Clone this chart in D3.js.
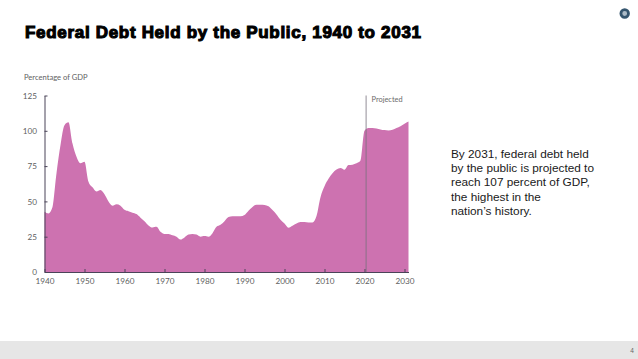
<!DOCTYPE html>
<html>
<head>
<meta charset="utf-8">
<script src="https://d3js.org/d3.v7.min.js"></script>
<style>
  html, body { margin: 0; padding: 0; background: #fff; }
  svg { display: block; }
  .tick text { font-family: "Lato", sans-serif; font-size: 8.2px; fill: #5f5f5f; }
</style>
</head>
<body>
<div id="chart"></div>
<script>
/* data */
const years = d3.range(1940, 2032);
const debt = [
  42.7, 41.5, 46, 70, 90, 104, 106, 91, 81.6, 77,
  78, 64, 60, 57, 58, 55, 50, 47, 48, 47,
  44, 43, 42, 41, 38.5, 36, 33, 31.5, 32, 28.5,
  27, 27, 26, 25, 23, 24.5, 26.5, 27, 26.5, 25,
  25.5, 25, 27.5, 32, 33.5, 36, 39, 39.5, 39.5, 39.4,
  40.3, 43.4, 46, 47.6, 47.6, 47.4, 46.5, 43.9, 40.8, 37,
  34.4, 31.4, 32.8, 34.4, 35.4, 35.4, 35, 35, 39.6, 53,
  60.8, 66, 70, 72.6, 73.6, 72.4, 75.7, 76, 77, 79,
  100, 102, 102, 101.6, 101, 100.5, 100.2, 100.7, 102, 103.3,
  105, 106.6
];
const xTicks = [1940, 1950, 1960, 1970, 1980, 1990, 2000, 2010, 2020, 2030];
const yTicks = [0, 25, 50, 75, 100, 125];
const projectedYear = 2020.4;
const bodyLines = [
  "By 2031, federal debt held",
  "by the public is projected to",
  "reach 107 percent of GDP,",
  "the highest in the",
  "nation\u2019s history."
];

const width = 638, height = 359;
const svg = d3.select("#chart").append("svg")
  .attr("width", width)
  .attr("height", height);

const x = d3.scaleLinear().domain([1940, 2031]).range([44.5, 408.5]);
const y = d3.scaleLinear().domain([0, 125]).range([272, 95.5]);

// footer band
svg.append("rect")
  .attr("x", 0).attr("y", 341)
  .attr("width", width).attr("height", 18)
  .attr("fill", "#e6e6e6");
svg.append("text")
  .attr("x", 632).attr("y", 353)
  .attr("text-anchor", "middle")
  .attr("font-family", "Liberation Sans")
  .attr("font-size", 6.5)
  .attr("fill", "#666")
  .text("4");

// logo
svg.append("circle")
  .attr("cx", 624.7).attr("cy", 13.5).attr("r", 3.8)
  .attr("fill", "#aebcc8")
  .attr("stroke", "#36566f")
  .attr("stroke-width", 2.8);

// title
svg.append("text")
  .attr("x", 25).attr("y", 37.5)
  .attr("font-family", "Liberation Sans")
  .attr("font-weight", "bold")
  .attr("font-size", 17)
  .attr("stroke", "#000")
  .attr("stroke-width", 1.1)
  .attr("textLength", 396)
  .attr("lengthAdjust", "spacing")
  .attr("fill", "#000")
  .text("Federal Debt Held by the Public, 1940 to 2031");

// area
const area = d3.area()
  .x((d, i) => x(years[i]))
  .y0(y(0))
  .y1(d => y(d))
  .curve(d3.curveMonotoneX);

svg.append("path")
  .datum(debt)
  .attr("d", area)
  .attr("fill", "#cd72b0");

// axes
const gx = svg.append("g")
  .attr("transform", `translate(0,${y(0)})`)
  .call(d3.axisBottom(x).tickValues(xTicks).tickFormat(d3.format("d")).tickSizeInner(-3).tickSizeOuter(0).tickPadding(6));
const gy = svg.append("g")
  .attr("transform", `translate(${x(1940)},0)`)
  .call(d3.axisLeft(y).tickValues(yTicks).tickSizeInner(-3).tickSizeOuter(0).tickPadding(7.5));

gx.selectAll("line, path").attr("stroke", "#4a4458");
gy.selectAll("line, path").attr("stroke", "#4a4458");

// projected marker
svg.append("line")
  .attr("x1", x(projectedYear)).attr("x2", x(projectedYear))
  .attr("y1", y(125)).attr("y2", y(0))
  .attr("stroke", "#77717c")
  .attr("stroke-width", 0.8);
svg.append("text")
  .attr("x", x(projectedYear) + 5.5).attr("y", 102)
  .attr("font-family", "Lato")
  .attr("font-size", 7.4)
  .attr("fill", "#6a6a6a")
  .text("Projected");

svg.append("text")
  .attr("x", 24).attr("y", 80)
  .attr("font-family", "Lato")
  .attr("font-size", 7.6)
  .attr("fill", "#5f5f5f")
  .text("Percentage of GDP");

// side note
svg.append("g").selectAll("text")
  .data(bodyLines)
  .enter()
  .append("text")
  .attr("x", 451)
  .attr("y", (d, i) => 157.5 + i * 14.4)
  .attr("font-family", "Liberation Sans")
  .attr("font-size", 11.8)
  .attr("fill", "#1a1a1a")
  .text(d => d);
</script>
</body>
</html>
